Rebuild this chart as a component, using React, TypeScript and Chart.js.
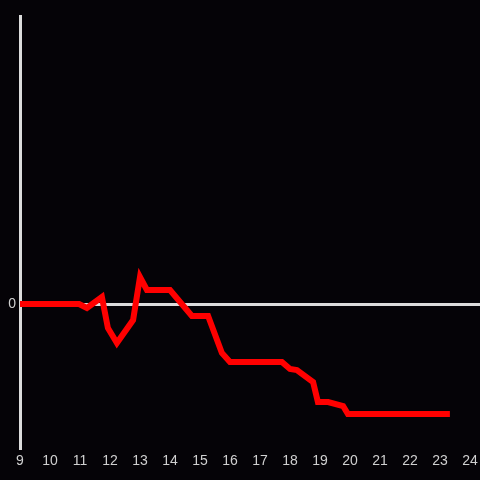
import React, { useEffect, useRef } from "react";
import { Chart, registerables } from "chart.js";

Chart.register(...registerables);

const hours = [9, 10.97, 11.23, 11.73, 11.93, 12.23, 12.77, 13.0, 13.23, 14.0, 14.73, 15.27, 15.73, 16.0, 17.73, 18.0, 18.23, 18.77, 18.93, 19.27, 19.77, 19.93, 23.33];
const values = [0, 0, -4, 7, -24, -39, -16, 27, 14, 14, -12, -12, -49, -58, -58, -65, -66, -78, -98, -98, -102, -110, -110];
const xTickLabels = [9, 10, 11, 12, 13, 14, 15, 16, 17, 18, 19, 20, 21, 22, 23, 24];
const yTickLabels = [0];

const BG = "#050307";
const AXIS = "#dcdcdc";
const TEXT = "#d0d0d0";

export default function App() {
  const ref = useRef<HTMLCanvasElement>(null);
  useEffect(() => {
    document.body.style.margin = "0";
    document.body.style.background = BG;
    const bgPlugin = {
      id: "bg",
      beforeDraw(chart: any) {
        const c = chart.ctx;
        c.save();
        c.fillStyle = BG;
        c.fillRect(0, 0, chart.width, chart.height);
        c.restore();
      },
    };
    const chart = new Chart(ref.current!, {
      type: "line",
      data: {
        datasets: [
          {
            data: hours.map((h, i) => ({ x: h, y: values[i] })),
            borderColor: "#ff0000",
            borderWidth: 6,
            pointRadius: 0,
            tension: 0,
            fill: false,
          },
        ],
      },
      options: {
        animation: false,
        responsive: false,
        devicePixelRatio: 1,
        layout: { padding: { top: 16, right: 0, left: 0, bottom: 0 } },
        plugins: { legend: { display: false }, tooltip: { enabled: false } },
        scales: {
          x: {
            type: "linear",
            min: 9,
            max: 9 + 460 / 30,
            afterBuildTicks: (s: any) => {
              s.ticks = xTickLabels.map((v) => ({ value: v }));
            },
            afterFit: (s: any) => {
              s.height = 32;
              s.paddingLeft = 0;
              s.paddingRight = 0;
            },
            grid: { display: false, drawTicks: false },
            border: { display: false },
            ticks: {
              color: TEXT,
              padding: 5,
              maxRotation: 0,
              autoSkip: false,
              font: { family: "'Liberation Sans', Arial, sans-serif", size: 14 },
            },
          },
          y: {
            type: "linear",
            min: -144,
            max: 288,
            afterBuildTicks: (s: any) => {
              s.ticks = yTickLabels.map((v) => ({ value: v }));
            },
            afterFit: (s: any) => {
              s.width = 20;
              s.paddingTop = 0;
              s.paddingBottom = 0;
            },
            grid: { color: AXIS, lineWidth: 3, drawTicks: false },
            border: { display: true, color: AXIS, width: 3 },
            ticks: {
              color: TEXT,
              padding: 4,
              font: { family: "'Liberation Sans', Arial, sans-serif", size: 14 },
            },
          },
        },
      },
      plugins: [bgPlugin],
    });
    return () => chart.destroy();
  }, []);
  return (
    <div style={{ width: 480, height: 480 }}>
      <canvas ref={ref} width={480} height={480} style={{ display: "block" }} />
    </div>
  );
}
